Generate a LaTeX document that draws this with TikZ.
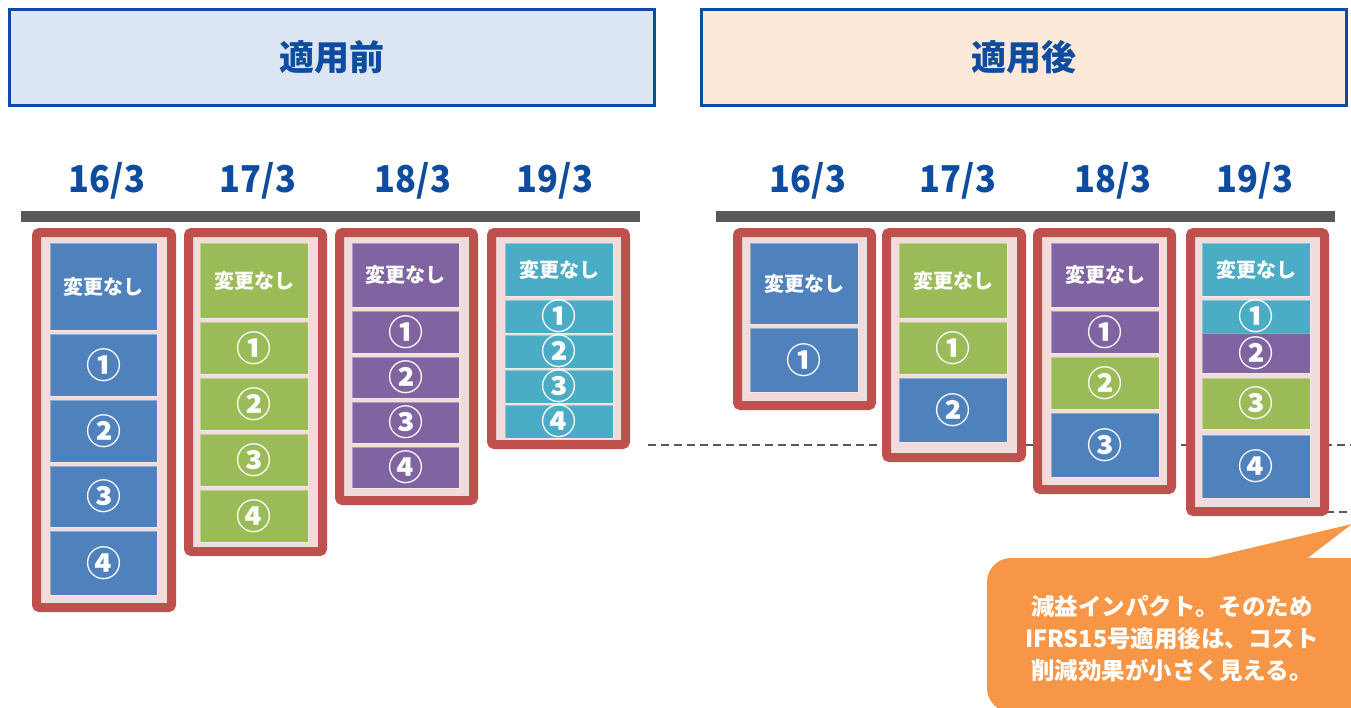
\documentclass[tikz,border=0pt]{standalone}
\usepackage{fontspec}
\usepackage{graphicx}
\setmainfont{Noto Sans CJK JP}
\usetikzlibrary{calc}
\definecolor{hblue}{HTML}{0D4C9E}
\definecolor{hfill1}{HTML}{DCE6F2}
\definecolor{hfill2}{HTML}{FDE9D9}
\definecolor{cblue}{HTML}{4F81BD}
\definecolor{cgreen}{HTML}{9BBB59}
\definecolor{cpurple}{HTML}{8064A2}
\definecolor{ccyan}{HTML}{4BACC6}
\definecolor{cred}{HTML}{C0504D}
\definecolor{cpink}{HTML}{F2DCDB}
\definecolor{bargray}{HTML}{595959}
\definecolor{corange}{HTML}{F79646}
\newcommand\cbox[7]{\node[cellst,fill=#6,anchor=north west,minimum width={(#4-#2)*1pt},minimum height={(#5-#3)*1pt}] (#1) at (#2,#3) {#7};}
\newcommand\frm[5]{\node[frame,anchor=north west,minimum width={(#4-#2-9)*1pt},minimum height={(#5-#3-9)*1pt}] (#1) at (#2,#3) {};}
\newcommand\hn{\fontsize{20}{24}\selectfont\bfseries 変更なし}
\newcommand\yrtxt[1]{\scalebox{0.93}[1]{#1}}
\begin{document}
\begin{tikzpicture}[x=1pt,y=-1pt,
  cellst/.style={inner sep=0pt,text=white,draw=white,draw opacity=0.35,line width=0.8pt,outer sep=0pt,font=\fontsize{35}{36}\selectfont\bfseries},
  frame/.style={draw=cred,line width=9pt,fill=cpink,rounded corners=3pt,inner sep=0pt},
  hdr/.style={draw=hblue,line width=3pt,minimum width=645pt,minimum height=96pt,text=hblue,font=\fontsize{35}{38}\selectfont\bfseries},
  yr/.style={text=hblue,font=\fontsize{37}{38}\selectfont\bfseries,inner sep=0pt},
  gbar/.style={fill=bargray,inner sep=0pt,minimum width=619pt,minimum height=11pt},
  dashline/.style={draw=bargray,line width=1.5pt,dash pattern=on 8pt off 5pt}]
\useasboundingbox (0,0) rectangle (1351,707);
% headers
\node[hdr,fill=hfill1] (h1) at (332,57.5) {\raisebox{-4pt}{適用前}};
\node[hdr,fill=hfill2] (h2) at (1024,57.5) {\raisebox{-4pt}{適用後}};
% years
\node[yr] (l16) at (107,181) {\yrtxt{16/3}};
\node[yr] (l17) at (258,181) {\yrtxt{17/3}};
\node[yr] (l18) at (413,181) {\yrtxt{18/3}};
\node[yr] (l19) at (555,181) {\yrtxt{19/3}};
\node[yr] (r16) at (808,181) {\yrtxt{16/3}};
\node[yr] (r17) at (958,181) {\yrtxt{17/3}};
\node[yr] (r18) at (1113,181) {\yrtxt{18/3}};
\node[yr] (r19) at (1255,181) {\yrtxt{19/3}};
% bars
\node[gbar] (bl) at (330.5,216.5) {};
\node[gbar] (br) at (1025.5,216.5) {};
% dashed lines
\coordinate (d1a) at (648,445);
\coordinate (d1b) at (1351,445);
\coordinate (d2a) at (1326,512);
\coordinate (d2b) at (1351,512);
\draw[dashline] (d1a) -- (d1b);
\draw[dashline] (d2a) -- (d2b);
% left col 1
\frm{fl1}{32}{228}{176}{612}
\cbox{l1a}{50}{243}{157}{330}{cblue}{\hn}
\cbox{l1b}{50}{334}{157}{396}{cblue}{①}
\cbox{l1c}{50}{400}{157}{462}{cblue}{②}
\cbox{l1d}{50}{466}{157}{527}{cblue}{③}
\cbox{l1e}{50}{531}{157}{595}{cblue}{④}
% left col 2
\frm{fl2}{184}{228}{327}{556}
\cbox{l2a}{200}{243}{308}{318}{cgreen}{\hn}
\cbox{l2b}{200}{322}{308}{374}{cgreen}{①}
\cbox{l2c}{200}{378}{308}{430}{cgreen}{②}
\cbox{l2d}{200}{434}{308}{486}{cgreen}{③}
\cbox{l2e}{200}{490}{308}{542}{cgreen}{④}
% left col 3
\frm{fl3}{335}{228}{478}{505}
\cbox{l3a}{352}{243}{459}{307}{cpurple}{\hn}
\cbox{l3b}{352}{311}{459}{353}{cpurple}{①}
\cbox{l3c}{352}{357}{459}{398}{cpurple}{②}
\cbox{l3d}{352}{402}{459}{443}{cpurple}{③}
\cbox{l3e}{352}{447}{459}{488}{cpurple}{④}
% left col 4
\frm{fl4}{487}{228}{630}{449}
\cbox{l4a}{505}{243}{613}{296}{ccyan}{\hn}
\cbox{l4b}{505}{300}{613}{330}{ccyan}{①}
\cbox{l4c}{505}{335}{613}{365}{ccyan}{②}
\cbox{l4d}{505}{370}{613}{400}{ccyan}{③}
\cbox{l4e}{505}{405}{613}{435}{ccyan}{④}
% right col 1
\frm{fr1}{733}{228}{876}{410}
\cbox{r1a}{750}{243}{858}{324}{cblue}{\hn}
\cbox{r1b}{750}{328}{858}{392}{cblue}{①}
% right col 2
\frm{fr2}{882}{228}{1026}{462}
\cbox{r2a}{899}{243}{1007}{318}{cgreen}{\hn}
\cbox{r2b}{899}{322}{1007}{374}{cgreen}{①}
\cbox{r2c}{899}{378}{1007}{442}{cblue}{②}
% right col 3
\frm{fr3}{1033}{228}{1176}{494}
\cbox{r3a}{1051}{243}{1159}{307}{cpurple}{\hn}
\cbox{r3b}{1051}{311}{1159}{353}{cpurple}{①}
\cbox{r3c}{1051}{357}{1159}{409}{cgreen}{②}
\cbox{r3d}{1051}{413}{1159}{477}{cblue}{③}
% right col 4
\frm{fr4}{1186}{228}{1329}{516}
\cbox{r4a}{1202}{243}{1310}{296}{ccyan}{\hn}
\cbox{r4b}{1202}{300}{1310}{329}{ccyan}{①}
\cbox{r4c}{1202}{333}{1310}{373}{cpurple}{②}
\cbox{r4d}{1202}{378}{1310}{429}{cgreen}{③}
\cbox{r4e}{1202}{435}{1310}{498}{cblue}{④}
% callout
\fill[corange,rounded corners=24pt] (987,558) rectangle (1400,712);
\fill[corange] (1200,560) -- (1352,524) -- (1305,560) -- cycle;
\node[text=white,align=center,font=\fontsize{23.5}{32}\selectfont\bfseries,inner sep=0pt] (co) at (1172,639) {減益インパクト。そのため\\IFRS15号適用後は、コスト\\削減効果が小さく見える。};
\end{tikzpicture}
\end{document}
